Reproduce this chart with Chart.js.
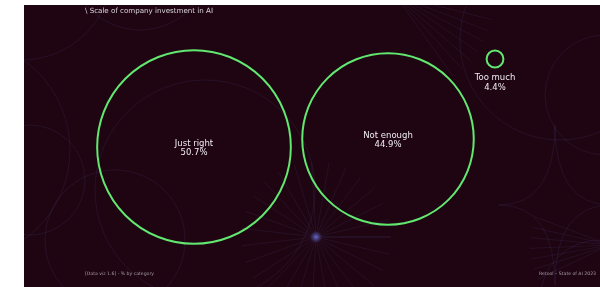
<!DOCTYPE html>
<html>
<head>
<meta charset="utf-8">
<script src="https://cdn.jsdelivr.net/npm/chart.js@4/dist/chart.umd.min.js"></script>
<style>
  html, body { margin: 0; padding: 0; background: #ffffff; }
  #wrap { width: 600px; height: 287px; }
</style>
</head>
<body>
<div id="wrap"><canvas id="bubbleChart" width="600" height="287"></canvas></div>
<script>
// Chart data
const categories = ['Just right', 'Not enough', 'Too much'];
const shares = [50.7, 44.9, 4.4];

// Layout of the bubble centres, in axis units (0-600 wide, 0-287 tall)
const bubbleX = [194, 388, 495];
const bubbleY = [147, 139, 59];
const pxPerPoint = 1.91; // radius in px for each percentage point

const titleText = '\\ Scale of company investment in AI';
const sourceText = '[Data viz 1.6] - % by category';
const creditText = 'Retool \u2013 State of AI 2023';

const panel = { x: 24, y: 5, w: 576, h: 282 };
const panelColor = '#1e0511';
const lineColor = 'rgba(92, 88, 170, 0.22)';

// Faint decorative background: arcs and ray bursts
function drawDecorations(ctx) {
    ctx.save();
    ctx.beginPath();
    ctx.rect(panel.x, panel.y, panel.w, panel.h);
    ctx.clip();
    ctx.strokeStyle = lineColor;
    ctx.lineWidth = 0.7;

    const arcs = [
        [22, -30, 90], [140, -40, 70], [30, 180, 55], [115, 240, 70],
        [-40, 150, 110], [560, 40, 100], [605, 95, 60], [600, 300, 60],
        [205, 190, 110]
    ];
    arcs.forEach(a => {
        ctx.beginPath();
        ctx.arc(a[0], a[1], a[2], 0, Math.PI * 2);
        ctx.stroke();
    });

    // concave star on the right
    const sx = 555, sy = 205, s = 80;
    ctx.beginPath();
    ctx.moveTo(sx, sy - s);
    ctx.quadraticCurveTo(sx, sy, sx + s * 0.7, sy);
    ctx.quadraticCurveTo(sx, sy, sx, sy + s);
    ctx.quadraticCurveTo(sx, sy, sx - s * 0.7, sy);
    ctx.quadraticCurveTo(sx, sy, sx, sy - s);
    ctx.stroke();

    // ray bursts
    function burst(cx, cy, n, len, from, to) {
        for (let i = 0; i < n; i++) {
            const ang = from + (to - from) * i / (n - 1);
            ctx.beginPath();
            ctx.moveTo(cx, cy);
            ctx.lineTo(cx + Math.cos(ang) * len, cy + Math.sin(ang) * len);
            ctx.stroke();
        }
    }
    ctx.strokeStyle = 'rgba(92, 88, 170, 0.2)';
    burst(316, 237, 28, 75, 0, Math.PI * 2);
    burst(395, -5, 7, 100, 0.25, 0.95);
    burst(610, 245, 7, 80, 2.7, 3.5);

    // glow at the centre of the lower burst
    const g = ctx.createRadialGradient(316, 237, 0, 316, 237, 6);
    g.addColorStop(0, 'rgba(110, 120, 230, 0.7)');
    g.addColorStop(1, 'rgba(110, 120, 230, 0)');
    ctx.fillStyle = g;
    ctx.fillRect(308, 229, 16, 16);
    ctx.restore();
}

const backdropPlugin = {
    id: 'backdrop',
    beforeDraw(chart) {
        const ctx = chart.ctx;
        ctx.save();
        ctx.fillStyle = '#ffffff';
        ctx.fillRect(0, 0, chart.width, chart.height);
        ctx.fillStyle = panelColor;
        ctx.fillRect(panel.x, panel.y, panel.w, panel.h);
        ctx.restore();
        drawDecorations(ctx);
    },
    afterDraw(chart) {
        const ctx = chart.ctx;
        ctx.save();
        ctx.textBaseline = 'middle';

        // title and footers
        ctx.fillStyle = '#ddd6de';
        ctx.font = '7.1px "DejaVu Sans"';
        ctx.textAlign = 'left';
        ctx.fillText(titleText, 85, 11.5);

        ctx.fillStyle = '#a89ca8';
        ctx.font = '4.6px "DejaVu Sans"';
        ctx.fillText(sourceText, 85, 274);
        ctx.textAlign = 'right';
        ctx.fillText(creditText, 596, 274);

        // bubble labels
        ctx.textAlign = 'center';
        ctx.fillStyle = '#f0eaf2';
        ctx.font = '8.5px "DejaVu Sans"';
        const meta = chart.getDatasetMeta(0);
        meta.data.forEach((el, i) => {
            const r = el.options.radius;
            const pct = shares[i].toFixed(1) + '%';
            if (r > 30) {
                ctx.fillText(categories[i], el.x, el.y - 3);
                ctx.fillText(pct, el.x, el.y + 6);
            } else {
                ctx.fillText(categories[i], el.x, el.y + r + 10);
                ctx.fillText(pct, el.x, el.y + r + 20);
            }
        });
        ctx.restore();
    }
};

const ctx = document.getElementById('bubbleChart').getContext('2d');
new Chart(ctx, {
    type: 'bubble',
    data: {
        labels: categories,
        datasets: [{
            label: 'Share of respondents',
            data: categories.map((c, i) => ({ x: bubbleX[i], y: bubbleY[i], r: shares[i] * pxPerPoint })),
            backgroundColor: 'rgba(0, 0, 0, 0)',
            borderColor: '#62e870',
            borderWidth: 2,
            hoverBorderWidth: 2,
            hoverRadius: 0
        }]
    },
    plugins: [backdropPlugin],
    options: {
        responsive: false,
        animation: false,
        events: [],
        layout: { padding: 0, autoPadding: false },
        scales: {
            x: { type: 'linear', min: 0, max: 600, display: false },
            y: { type: 'linear', min: 0, max: 287, reverse: true, display: false }
        },
        plugins: {
            legend: { display: false },
            tooltip: { enabled: false }
        }
    }
});
</script>
</body>
</html>
